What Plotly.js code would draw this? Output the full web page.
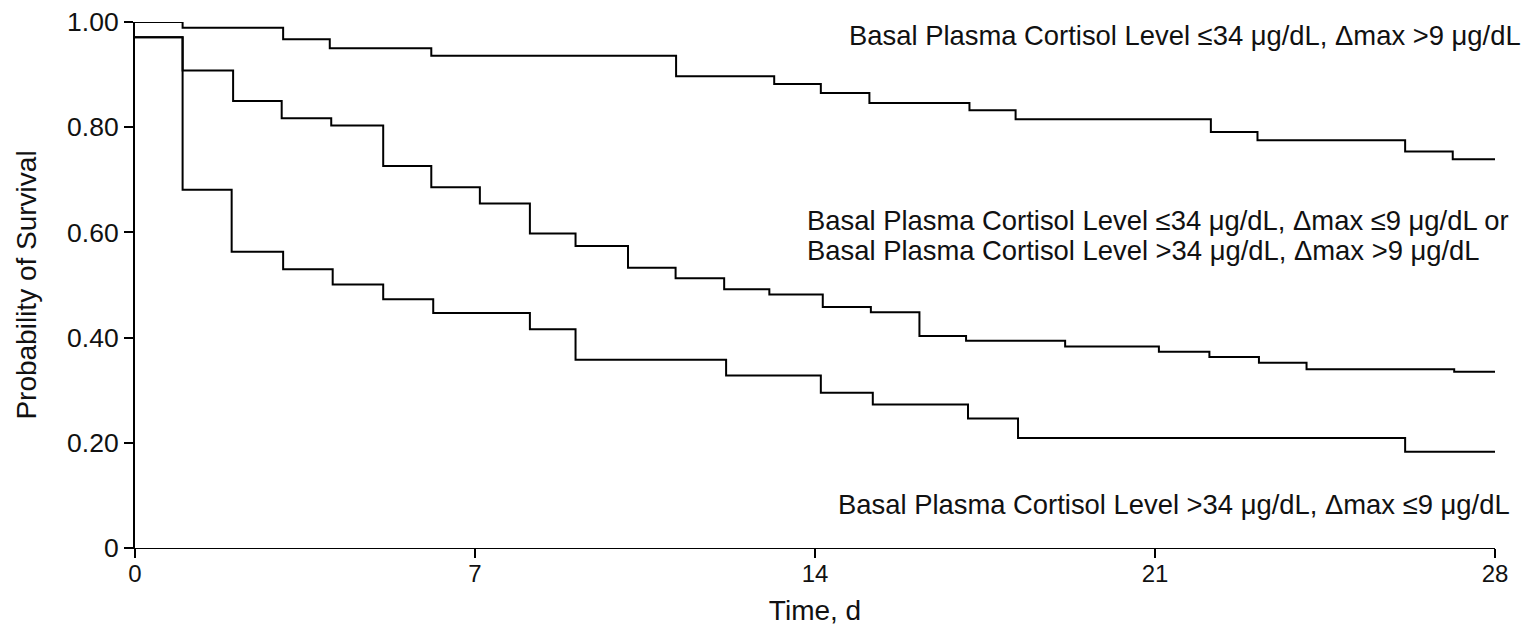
<!DOCTYPE html>
<html>
<head>
<meta charset="utf-8">
<script src="https://cdn.plot.ly/plotly-3.0.1.min.js"></script>
<style>html,body{margin:0;padding:0;background:#fff;}#chart{width:1530px;height:629px;}</style>
</head>
<body>
<div id="chart"></div>
<script>
// Time (days) of each step and survival probability after the step
const timesA = [0, 0.98, 3.05, 4.01, 6.10, 11.14, 13.16, 14.12, 15.12, 17.18, 18.13, 22.15, 23.11, 26.15, 27.13, 28.16];
const survA  = [1.00, 0.989, 0.967, 0.950, 0.936, 0.897, 0.882, 0.865, 0.846, 0.832, 0.815, 0.791, 0.775, 0.754, 0.739, 0.739];

const timesB = [0, 0.98, 2.02, 3.02, 4.04, 5.11, 6.10, 7.10, 8.13, 9.07, 10.15, 11.13, 12.13, 13.06, 14.16, 15.15, 16.15, 17.11, 19.15, 21.08, 22.12, 23.14, 24.12, 27.16, 28.07];
const survB  = [0.971, 0.908, 0.850, 0.817, 0.803, 0.726, 0.686, 0.655, 0.598, 0.574, 0.533, 0.513, 0.492, 0.482, 0.458, 0.448, 0.403, 0.394, 0.383, 0.373, 0.363, 0.352, 0.340, 0.335, 0.335];

const timesC = [0, 0.98, 1.99, 3.05, 4.07, 5.11, 6.14, 8.13, 9.07, 12.17, 14.12, 15.19, 17.15, 18.18, 26.15, 28.16];
const survC  = [0.971, 0.681, 0.563, 0.530, 0.501, 0.473, 0.447, 0.416, 0.358, 0.328, 0.295, 0.273, 0.246, 0.209, 0.183, 0.183];

const xTicks = [0, 7, 14, 21, 28];
const yTicks = [0, 0.2, 0.4, 0.6, 0.8, 1.0];
const yTickText = ['0', '0.20', '0.40', '0.60', '0.80', '1.00'];

const labelA = 'Basal Plasma Cortisol Level \u226434 \u03bcg/dL, \u0394max >9 \u03bcg/dL';
const labelB1 = 'Basal Plasma Cortisol Level \u226434 \u03bcg/dL, \u0394max \u22649 \u03bcg/dL or';
const labelB2 = 'Basal Plasma Cortisol Level >34 \u03bcg/dL, \u0394max >9 \u03bcg/dL';
const labelC = 'Basal Plasma Cortisol Level >34 \u03bcg/dL, \u0394max \u22649 \u03bcg/dL';

const FONT = '"Liberation Sans", Arial, Helvetica, sans-serif';
const TXT = '#111';
const ANN = 27.4;

function stepTrace(x, y, name) {
  return {x: x, y: y, type: 'scatter', mode: 'lines', name: name,
    line: {shape: 'hv', color: '#000', width: 2}, cliponaxis: false, hoverinfo: 'x+y'};
}

const data = [
  stepTrace(timesA, survA, labelA),
  stepTrace(timesB, survB, 'middle'),
  stepTrace(timesC, survC, labelC)
];

function ann(x, y, text, xanchor) {
  return {x: x, y: y, xref: 'paper', yref: 'paper', text: text, showarrow: false,
    xanchor: xanchor, yanchor: 'middle', font: {size: ANN, family: FONT, color: TXT}};
}

const layout = {
  width: 1530, height: 629,
  margin: {l: 135, r: 35, t: 21.7, b: 80.7},
  paper_bgcolor: '#fff', plot_bgcolor: '#fff',
  showlegend: false,
  font: {family: FONT, color: TXT, size: 25},
  xaxis: {
    range: [0, 28], tickvals: xTicks, ticktext: xTicks.map(String),
    showgrid: false, zeroline: false, showline: true, linecolor: '#000', linewidth: 1.3,
    ticks: 'outside', ticklen: 9, tickwidth: 2, tickcolor: '#000',
    tickfont: {size: 24, family: FONT, color: TXT}, ticklabelstandoff: -5,
    title: {text: 'Time, d', font: {size: 28, family: FONT, color: TXT}, standoff: 14},
    automargin: false, fixedrange: true
  },
  yaxis: {
    range: [0, 1], tickvals: yTicks, ticktext: yTickText,
    showgrid: false, zeroline: false, showline: true, linecolor: '#000', linewidth: 2,
    ticks: 'outside', ticklen: 9, tickwidth: 1.5, tickcolor: '#000',
    tickfont: {size: 26.5, family: FONT, color: TXT},
    title: {text: 'Probability of Survival', font: {size: 28, family: FONT, color: TXT}, standoff: 22},
    automargin: false, fixedrange: true
  },
  annotations: [
    ann(1.0206, 0.974, labelA, 'right'),
    ann(0.4923, 0.623, labelB1, 'left'),
    ann(0.4923, 0.565, labelB2, 'left'),
    ann(1.0125, 0.082, labelC, 'right')
  ]
};

Plotly.newPlot('chart', data, layout, {displayModeBar: false});
</script>
</body>
</html>
